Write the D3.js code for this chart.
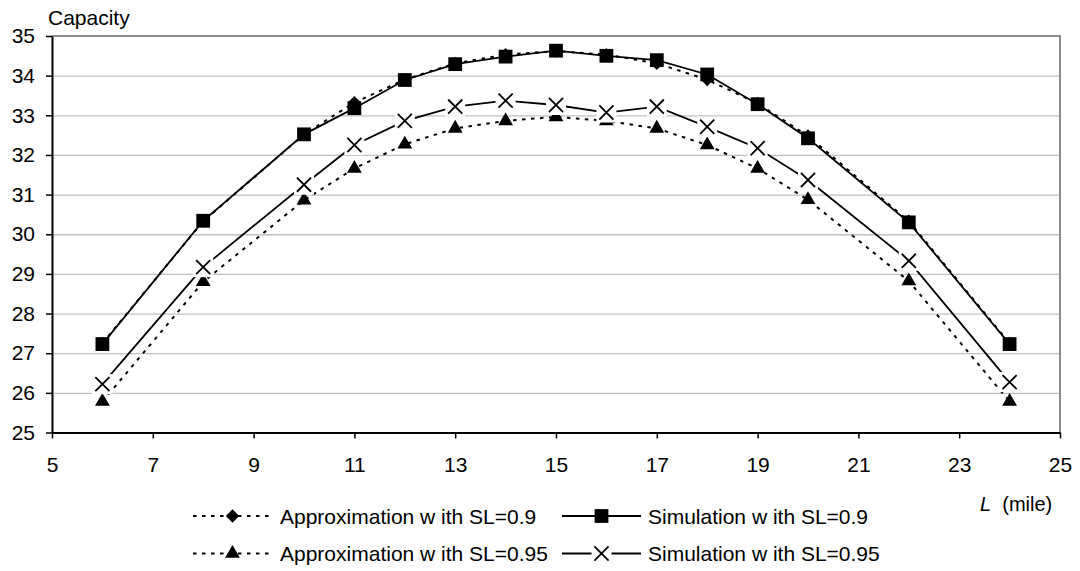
<!DOCTYPE html>
<html>
<head>
<meta charset="utf-8">
<script src="https://cdn.jsdelivr.net/npm/d3@7"></script>
<style>
  body { margin: 0; background: #fff; }
  text { font-family: "Liberation Sans", Arial, sans-serif; fill: #000; }
</style>
</head>
<body>
<div id="chart"></div>
<script>
/*global d3*/

//x values (L in miles)
var distances = [6, 8, 10, 11, 12, 13, 14, 15, 16, 17, 18, 19, 20, 22, 24];

//capacity for every series
var approx90 = [27.25, 30.33, 32.52, 33.32, 33.9, 34.31, 34.53, 34.62, 34.53, 34.31, 33.9, 33.3, 32.48, 30.33, 27.25];
var sim90 = [27.23, 30.34, 32.52, 33.18, 33.89, 34.29, 34.48, 34.63, 34.5, 34.39, 34.03, 33.28, 32.42, 30.3, 27.23];
var approx95 = [25.78, 28.8, 30.86, 31.66, 32.27, 32.67, 32.86, 32.96, 32.86, 32.67, 32.25, 31.66, 30.87, 28.82, 25.78];
var sim95 = [26.22, 29.17, 31.25, 32.25, 32.86, 33.22, 33.37, 33.26, 33.07, 33.22, 32.71, 32.17, 31.37, 29.33, 26.27];

//tick labels
var xTicks = [5, 7, 9, 11, 13, 15, 17, 19, 21, 23, 25];
var yTicks = [25, 26, 27, 28, 29, 30, 31, 32, 33, 34, 35];

var seriesNames = ["Approximation w ith SL=0.9", "Simulation w ith SL=0.9",
                   "Approximation w ith SL=0.95", "Simulation w ith SL=0.95"];

//plot area inside the svg
var W = 1080, H = 571;
var plotLeft = 52, plotRight = 1060, plotTop = 36, plotBottom = 432.5;

var svg = d3.select("#chart").append("svg")
    .attr("width", W)
    .attr("height", H);

var x = d3.scaleLinear().domain([5, 25]).range([plotLeft, plotRight]),
    y = d3.scaleLinear().domain([25, 35]).range([plotBottom, plotTop]);

//cross marker (excel style x)
var crossType = {
    draw: function(ctx, size) {
        var r = Math.sqrt(size) / 2;
        ctx.moveTo(-r, -r); ctx.lineTo(r, r);
        ctx.moveTo(r, -r); ctx.lineTo(-r, r);
    }
};

var series = [
    {name: seriesNames[0], values: approx90, dash: "3.5,5.5", marker: "diamond"},
    {name: seriesNames[1], values: sim90, dash: null, marker: "square"},
    {name: seriesNames[2], values: approx95, dash: "3.5,5.5", marker: "triangle"},
    {name: seriesNames[3], values: sim95, dash: null, marker: "cross"}
];

//gridlines
svg.append("g")
    .attr("class", "grid")
    .attr("transform", "translate(" + plotLeft + ",0)")
    .call(d3.axisLeft(y).tickValues(yTicks.slice(1, -1)).tickSize(-(plotRight - plotLeft)).tickFormat(""))
    .call(function(g) {
        g.select(".domain").remove();
        g.selectAll("line").attr("stroke", "#c0c0c0").attr("stroke-width", 1.3);
    });

//frame: top and right in grey
svg.append("path")
    .attr("d", "M" + plotLeft + "," + plotTop + "H" + plotRight + "V" + plotBottom)
    .attr("fill", "none")
    .attr("stroke", "#8c8c8c")
    .attr("stroke-width", 2);

//x axis
svg.append("g")
    .attr("transform", "translate(0," + plotBottom + ")")
    .call(d3.axisBottom(x).tickValues(xTicks).tickSize(6).tickPadding(18.5).tickSizeOuter(0))
    .call(function(g) {
        g.select(".domain").attr("stroke", "#000").attr("stroke-width", 2);
        g.selectAll("line").attr("stroke", "#000").attr("stroke-width", 1.5);
        g.selectAll("text").style("font-size", "21px").attr("fill", "#000");
    });

//y axis
svg.append("g")
    .attr("transform", "translate(" + plotLeft + ",0)")
    .call(d3.axisLeft(y).tickValues(yTicks).tickSize(6).tickPadding(11).tickSizeOuter(0))
    .call(function(g) {
        g.select(".domain").attr("stroke", "#000").attr("stroke-width", 2);
        g.selectAll("line").attr("stroke", "#000").attr("stroke-width", 1.5);
        g.selectAll("text").style("font-size", "21px").attr("fill", "#000");
    });

//axis titles
svg.append("text")
    .attr("x", 48).attr("y", 25)
    .style("font-size", "21px")
    .text("Capacity");

var xTitle = svg.append("text")
    .attr("x", 980).attr("y", 511)
    .style("font-size", "20px");
xTitle.append("tspan").style("font-style", "italic").text("L");
xTitle.append("tspan").attr("xml:space", "preserve").text("  (mile)");

//draw a marker of a given type
var drawMarker = function(g, type, cx, cy) {
    if (type === "cross") {
        g.append("rect")
            .attr("x", cx - 10).attr("y", cy - 10)
            .attr("width", 20).attr("height", 20)
            .attr("fill", "#fff");
        g.append("path")
            .attr("d", d3.symbol().type(crossType).size(200)())
            .attr("transform", "translate(" + cx + "," + cy + ")")
            .attr("fill", "none")
            .attr("stroke", "#000")
            .attr("stroke-width", 1.8);
    } else if (type === "square") {
        g.append("path")
            .attr("d", d3.symbol().type(d3.symbolSquare).size(190)())
            .attr("transform", "translate(" + cx + "," + cy + ")")
            .attr("fill", "#000");
    } else if (type === "diamond") {
        g.append("path")
            .attr("d", d3.symbol().type(d3.symbolSquare).size(88)())
            .attr("transform", "translate(" + cx + "," + cy + ") rotate(45)")
            .attr("fill", "#000");
    } else {
        g.append("path")
            .attr("d", d3.symbol().type(d3.symbolTriangle).size(95)())
            .attr("transform", "translate(" + cx + "," + cy + ")")
            .attr("fill", "#000");
    }
};

var line = d3.line()
    .x(function(d) { return x(d.x); })
    .y(function(d) { return y(d.y); });

//one group per series: line first, then markers
series.forEach(function(s) {
    var pts = distances.map(function(d, i) { return {x: d, y: s.values[i]}; });
    var g = svg.append("g").attr("class", "series");
    g.append("path")
        .attr("d", line(pts))
        .attr("fill", "none")
        .attr("stroke", "#000")
        .attr("stroke-width", s.dash ? 2 : 1.8)
        .attr("stroke-dasharray", s.dash);
    pts.forEach(function(p) {
        drawMarker(g, s.marker, x(p.x), y(p.y));
    });
});

//legend: two columns, two rows
var legendPos = [
    {sx: 193, tx: 280, cy: 516},
    {sx: 562, tx: 648, cy: 516},
    {sx: 193, tx: 280, cy: 553.5},
    {sx: 562, tx: 648, cy: 553.5}
];

series.forEach(function(s, i) {
    var p = legendPos[i];
    var g = svg.append("g").attr("class", "legend");
    var len = 79;
    g.append("line")
        .attr("x1", p.sx).attr("x2", p.sx + len)
        .attr("y1", p.cy).attr("y2", p.cy)
        .attr("stroke", "#000")
        .attr("stroke-width", s.dash ? 2 : 1.8)
        .attr("stroke-dasharray", s.dash);
    drawMarker(g, s.marker, p.sx + len / 2, p.cy);
    g.append("text")
        .attr("x", p.tx).attr("y", p.cy + 7.5)
        .style("font-size", "21px")
        .attr("xml:space", "preserve")
        .text(s.name);
});
</script>
</body>
</html>
